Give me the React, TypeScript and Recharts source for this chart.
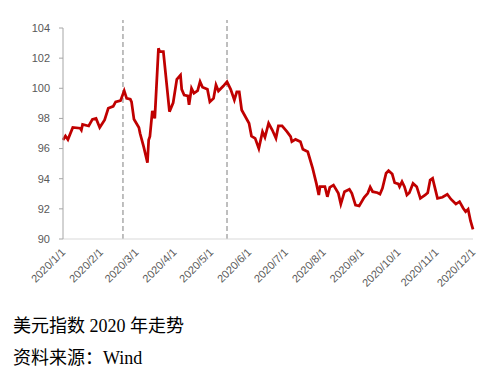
import React from 'react';
import { LineChart, Line, XAxis, YAxis, ReferenceLine } from 'recharts';

// US dollar index 2020, x = days since 2020/1/1
const days = [
  0, 2, 4, 8, 14, 15, 16, 21, 24, 27, 30, 34, 37, 41, 43, 47, 50, 52, 55, 56,
  58, 62, 63, 66, 69, 70, 71, 73, 75, 78, 79, 82, 87, 90, 93, 96, 97, 99, 102, 103,
  105, 107, 110, 112, 114, 118, 120, 123, 125, 127, 131, 134, 137, 140, 142, 144, 146, 152, 154, 157,
  160, 163, 165, 168, 171, 174, 176, 179, 183, 186, 187, 190, 194, 196, 200, 204, 207, 209, 210, 214,
  216, 218, 221, 225, 227, 230, 234, 236, 239, 242, 246, 249, 251, 253, 257, 259, 261, 264, 266, 269,
  271, 274, 275, 277, 279, 281, 283, 286, 289, 292, 296, 298, 300, 302, 303, 306, 310, 314, 317, 321,
  324, 327, 329, 331, 333, 335,
];

const dxy = [
  96.57, 96.83, 96.6, 97.4, 97.35, 97.23, 97.6, 97.5, 97.94, 98.0, 97.4, 97.9, 98.67, 98.8, 99.1, 99.18, 99.84, 99.33, 99.27, 99.1,
  97.94, 97.4, 97.0, 96.1, 95.06, 96.57, 96.8, 98.5, 98.0, 102.65, 102.43, 102.43, 98.45, 99.04, 100.6, 100.88, 99.93, 99.55, 99.5, 98.9,
  100.0, 99.67, 99.84, 100.44, 100.07, 99.93, 99.1, 99.33, 100.22, 99.82, 100.15, 100.44, 99.93, 99.22, 99.77, 99.77, 98.56, 97.68, 96.83, 96.68,
  96.0, 97.12, 96.75, 97.68, 97.23, 96.68, 97.5, 97.5, 97.12, 96.79, 96.46, 96.61, 96.46, 95.95, 95.79, 94.69, 93.69, 92.92, 93.47, 93.47,
  92.8, 93.43, 93.58, 93.03, 92.32, 93.14, 93.3, 93.03, 92.25, 92.19, 92.75, 93.03, 93.45, 93.14, 93.07, 92.98, 93.36, 94.36, 94.53, 94.31,
  93.73, 93.65, 93.47, 93.8, 93.47, 92.92, 93.07, 93.69, 93.47, 92.7, 92.92, 93.07, 93.91, 94.03, 93.69, 92.7, 92.77, 92.97, 92.64, 92.32,
  92.48, 92.04, 91.81, 91.97, 91.2, 90.64,
];

const monthTicks = [0, 31, 60, 91, 121, 152, 182, 213, 244, 274, 305, 335];
const monthLabels = [
  '2020/1/1', '2020/2/1', '2020/3/1', '2020/4/1', '2020/5/1', '2020/6/1',
  '2020/7/1', '2020/8/1', '2020/9/1', '2020/10/1', '2020/11/1', '2020/12/1',
];
const yTicks = [90, 92, 94, 96, 98, 100, 102, 104];
const markerDays = [49, 134];

const data = days.map((d, i) => ({ day: d, value: dxy[i] }));

const XTick = ({ x, y, payload }: any) => {
  const idx = monthTicks.indexOf(payload.value);
  return (
    <g transform={`translate(${x},${y})`}>
      <text
        x={3}
        y={12}
        textAnchor="end"
        fill="#595959"
        fontSize={11}
        fontFamily='"Liberation Sans", Arial, sans-serif'
        transform="rotate(-45, 3, 12)"
      >
        {monthLabels[idx]}
      </text>
    </g>
  );
};

const App: React.FC = () => {
  return (
    <div style={{ position: 'absolute', left: 0, top: 0, width: 498, height: 381, background: '#fff' }}>
      <LineChart width={498} height={300} data={data} margin={{ top: 28, right: 25, left: 13, bottom: 0 }}>
        <XAxis
          dataKey="day"
          type="number"
          domain={[0, 335]}
          ticks={monthTicks}
          interval={0}
          height={61}
          stroke="#d9d9d9"
          tickLine={false}
          tickSize={0}
          tick={<XTick />}
        />
        <YAxis
          type="number"
          domain={[90, 104]}
          ticks={yTicks}
          interval={0}
          width={50}
          stroke="#a6a6a6"
          tickSize={4}
          tickMargin={9}
          tick={{ fill: '#595959', fontSize: 11, fontFamily: '"Liberation Sans", Arial, sans-serif' }}
        />
        {markerDays.map((d) => (
          <ReferenceLine
            key={d}
            segment={[{ x: d, y: 90 }, { x: d, y: 104.53 }]}
            ifOverflow="visible"
            stroke="#7f7f7f"
            strokeDasharray="5 3"
            strokeWidth={1}
          />
        ))}
        <Line
          type="linear"
          dataKey="value"
          stroke="#c00000"
          strokeWidth={2.75}
          dot={false}
          isAnimationActive={false}
        />
      </LineChart>
      <div
        style={{
          position: 'absolute',
          left: 13,
          top: 315,
          fontSize: 18,
          lineHeight: '22px',
          color: '#000',
          fontFamily: '"Liberation Serif", "Noto Sans CJK SC", serif',
        }}
      >
        美元指数 2020 年走势
      </div>
      <div
        style={{
          position: 'absolute',
          left: 13,
          top: 347,
          fontSize: 18,
          lineHeight: '22px',
          color: '#000',
          fontFamily: '"Liberation Serif", "Noto Sans CJK SC", serif',
        }}
      >
        资料来源：Wind
      </div>
    </div>
  );
};

export default App;
